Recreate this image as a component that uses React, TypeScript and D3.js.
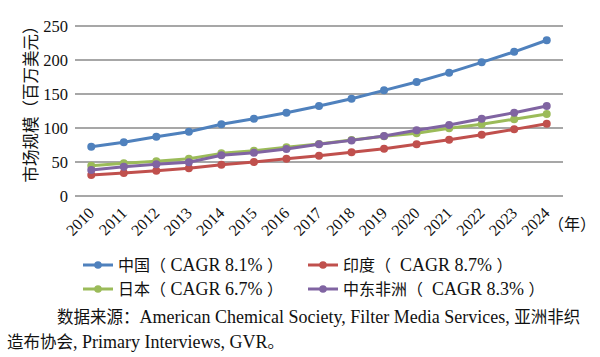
import React from "react";
import * as d3 from "d3";

const years = ["2010","2011","2012","2013","2014","2015","2016","2017","2018","2019","2020","2021","2022","2023","2024"];
const china = [72.5, 79, 87, 94.6, 105.4, 113.7, 122.5, 132.4, 143, 155.4, 167.6, 181.4, 196.6, 212, 229];
const india = [31, 33.8, 37.3, 40.7, 46, 50, 54.9, 59.3, 64.2, 69.6, 76, 82.8, 90.2, 98, 106.4];
const japan = [44.6, 48, 51, 54.9, 62.7, 66.6, 71.6, 76.5, 82.4, 87.7, 92.2, 99.5, 105.4, 113, 120.6];
const mena = [38.2, 43, 46.6, 49.5, 59.8, 63.7, 69.1, 76, 81.8, 88.2, 96.6, 104.4, 113.7, 122.5, 132.4];
const yTicks = [0, 50, 100, 150, 200, 250];
const seriesCn = ["中国", "印度", "日本", "中东非洲"];
const seriesCagr = ["CAGR 8.1%", "CAGR 8.7%", "CAGR 6.7%", "CAGR 8.3%"];
const colors = ["#4F81BD", "#C0504D", "#9BBB59", "#8064A2"];

const serif = "'Liberation Serif', 'Times New Roman', serif";
const cjk = "'Noto Sans CJK SC', sans-serif";

export default function App() {
  const W = 600, H = 357;
  const x = d3.scaleBand().domain(years).range([75, 563]);
  const y = d3.scaleLinear().domain([0, 250]).range([196, 26]);
  const cxOf = (i: number) => (x(years[i]) as number) + x.bandwidth() / 2;
  const line = d3.line<number>().x((_, i) => cxOf(i)).y(d => y(d));
  const allSeries = [china, india, japan, mena];
  const legendPos = [
    { lx: 83, ly: 265 },
    { lx: 308, ly: 265 },
    { lx: 83, ly: 289 },
    { lx: 308, ly: 289 },
  ];
  const pre = { whiteSpace: "pre" as const };
  return (
    <svg width={W} height={H} style={{ position: "absolute", left: 0, top: 0, background: "#fff" }}>
      <rect width={W} height={H} fill="#fff" />
      {yTicks.map(t => (
        <g key={t}>
          <line x1={75} x2={563} y1={y(t)} y2={y(t)} stroke="#8a8a8a" strokeWidth={1.6} />
          <text x={68} y={y(t)} dy="0.35em" textAnchor="end" fontFamily={serif} fontSize={16.5} fill="#111">{t}</text>
        </g>
      ))}
      <text transform={`translate(37,100) rotate(-90)`} textAnchor="middle" fontFamily={cjk} fontSize={16.5} fill="#111">市场规模（百万美元）</text>
      {years.map((yr, i) => (
        <text key={yr} transform={`translate(${cxOf(i) + 4},${214}) rotate(-45)`} textAnchor="end" fontFamily={serif} fontSize={16} fill="#111">{yr}</text>
      ))}
      <text x={548} y={230} fontFamily={cjk} fontSize={16} fill="#111">（年）</text>
      {allSeries.map((s, si) => (
        <g key={si}>
          <path d={line(s) || ""} fill="none" stroke={colors[si]} strokeWidth={3} strokeLinejoin="round" />
          {s.map((v, i) => (
            <circle key={i} cx={cxOf(i)} cy={y(v)} r={4} fill={colors[si]} />
          ))}
        </g>
      ))}
      {seriesCn.map((n, i) => (
        <g key={n}>
          <line x1={legendPos[i].lx} x2={legendPos[i].lx + 30} y1={legendPos[i].ly} y2={legendPos[i].ly} stroke={colors[i]} strokeWidth={3} />
          <circle cx={legendPos[i].lx + 15} cy={legendPos[i].ly} r={3.8} fill={colors[i]} />
          <text x={legendPos[i].lx + 35} y={legendPos[i].ly + 6} fill="#111" style={pre}>
            <tspan fontFamily={cjk} fontSize={16}>{n + "（"}</tspan>
            <tspan fontFamily={serif} fontSize={18}>{(i % 2 === 1 ? "  " : " ") + seriesCagr[i] + " "}</tspan>
            <tspan fontFamily={cjk} fontSize={16}>）</tspan>
          </text>
        </g>
      ))}
      <text x={57} y={323} fill="#111" style={pre}>
        <tspan fontFamily={cjk} fontSize={16.5}>数据来源：</tspan>
        <tspan fontFamily={serif} fontSize={18}>American Chemical Society, Filter Media Services, </tspan>
        <tspan fontFamily={cjk} fontSize={16.5}>亚洲非织</tspan>
      </text>
      <text x={7} y={348} fill="#111" style={pre}>
        <tspan fontFamily={cjk} fontSize={16.5}>造布协会</tspan>
        <tspan fontFamily={serif} fontSize={18}>, Primary Interviews, GVR</tspan>
        <tspan fontFamily={cjk} fontSize={16.5}>。</tspan>
      </text>
    </svg>
  );
}
